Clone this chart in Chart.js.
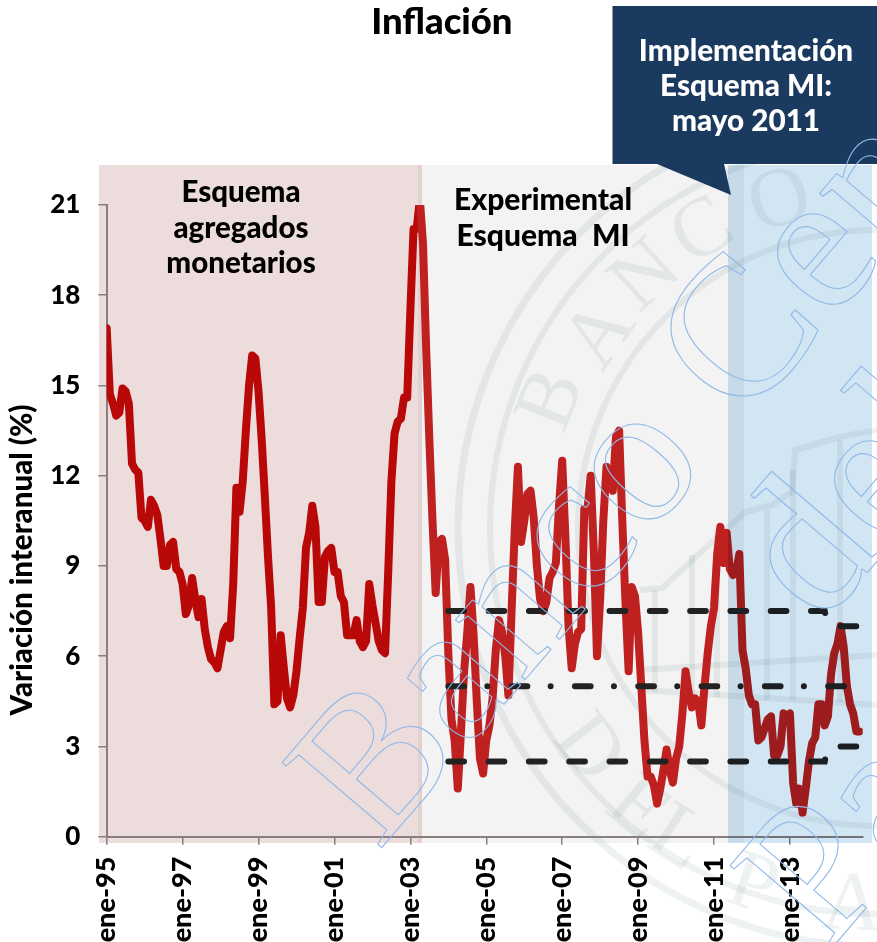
<!DOCTYPE html>
<html>
<head>
<meta charset="utf-8">
<style>html,body{margin:0;padding:0;background:#fff}canvas{display:block}</style>
<script src="https://cdn.jsdelivr.net/npm/chart.js@4"></script>
</head>
<body>
<canvas id="c" width="877" height="942"></canvas>
<script>
const monthNames = ['ene','feb','mar','abr','may','jun','jul','ago','sep','oct','nov','dic'];
const yearNames = ['95','96','97','98','99','00','01','02','03','04','05','06','07','08','09','10','11','12','13','14'];
const categories = yearNames.flatMap(y => monthNames.map(m => m + '-' + y));

const inflation = [
  16.9,14.7,14.4,14.0,14.1,14.9,14.8,14.4,12.4,12.2,12.1,10.6,
  10.5,10.3,11.2,11.0,10.7,9.9,9.0,9.0,9.7,9.8,8.9,8.8,
  8.4,7.4,7.7,8.6,7.9,7.3,7.9,6.9,6.3,5.9,5.8,5.6,
  6.2,6.8,7.0,6.6,8.4,11.6,10.8,11.8,13.5,15.0,16.0,15.9,
  14.8,13.2,11.3,9.3,7.6,4.4,4.5,6.7,5.6,4.6,4.3,4.7,
  5.5,6.6,7.6,9.6,10.1,11.0,10.3,7.8,7.8,9.3,9.5,9.6,
  8.8,8.8,8.0,7.8,6.7,6.7,6.7,7.2,6.5,6.3,6.5,8.4,
  7.7,7.1,6.5,6.2,6.1,8.8,11.8,13.4,13.8,13.9,14.6,14.6,
  17.5,20.2,20.2,21.2,19.7,16.2,13.2,10.5,8.1,9.8,9.9,9.2,
  6.1,3.9,3.2,1.6,3.5,5.5,6.8,8.3,6.7,4.5,2.6,2.1,
  3.2,3.7,4.6,6.2,7.2,6.8,6.0,4.7,7.5,10.2,12.3,9.8,
  10.5,11.4,11.5,10.6,9.0,7.9,7.5,7.8,8.6,8.8,9.1,11.0,
  12.5,10.0,7.0,5.6,6.4,6.8,6.9,10.9,10.9,12.0,9.5,6.0,
  7.9,10.5,12.3,12.1,11.5,13.3,13.5,10.5,7.8,5.5,8.3,8.0,
  6.8,5.0,3.2,2.0,2.0,1.7,1.1,1.6,2.2,2.9,2.2,1.8,
  2.6,3.0,4.1,5.5,4.8,4.3,4.6,4.5,3.7,5.0,6.1,7.0,
  7.6,9.4,10.3,9.1,10.1,8.9,8.7,8.8,9.4,6.2,5.6,4.7,
  4.4,4.4,3.2,3.3,3.6,3.9,4.0,2.7,2.7,3.0,4.1,4.0,
  4.1,1.8,1.1,1.6,0.8,1.6,2.5,3.1,3.3,4.4,4.4,3.7,
  4.0,5.4,6.1,6.4,7.0,6.3,5.0,4.4,4.1,3.5,3.5
];

const beforeTargets = new Array(108).fill(null);
const upperBand = beforeTargets.concat([
  7.5,7.5,7.5,7.5,7.5,7.5,7.5,7.5,7.5,7.5,7.5,7.5,
  7.5,7.5,7.5,7.5,7.5,7.5,7.5,7.5,7.5,7.5,7.5,7.5,
  7.5,7.5,7.5,7.5,7.5,7.5,7.5,7.5,7.5,7.5,7.5,7.5,
  7.5,7.5,7.5,7.5,7.5,7.5,7.5,7.5,7.5,7.5,7.5,7.5,
  7.5,7.5,7.5,7.5,7.5,7.5,7.5,7.5,7.5,7.5,7.5,7.5,
  7.5,7.5,7.5,7.5,7.5,7.5,7.5,7.5,7.5,7.5,7.5,7.5,
  7.5,7.5,7.5,7.5,7.5,7.5,7.5,7.5,7.5,7.5,7.5,7.5,
  7.5,7.5,7.5,7.5,7.5,7.5,7.5,7.5,7.5,7.5,7.5,7.5,
  7.5,7.5,7.5,7.5,7.5,7.5,7.5,7.5,7.5,7.5,7.5,7.5,
  7.5,7.5,7.5,7.5,7.5,7.5,7.5,7.5,7.5,7.5,7.5,7.5,
  7.0,null,null,null,7.0,7.0,7.0,7.0,7.0,7.0,7.0
]);
const centerTarget = beforeTargets.concat([
  5,5,5,5,5,5,5,5,5,5,5,5,
  5,5,5,5,5,5,5,5,5,5,5,5,
  5,5,5,5,5,5,5,5,5,5,5,5,
  5,5,5,5,5,5,5,5,5,5,5,5,
  5,5,5,5,5,5,5,5,5,5,5,5,
  5,5,5,5,5,5,5,5,5,5,5,5,
  5,5,5,5,5,5,5,5,5,5,5,5,
  5,5,5,5,5,5,5,5,5,5,5,5,
  5,5,5,5,5,5,5,5,5,5,5,5,
  5,5,5,5,5,5,5,5,5,5,5,5,
  5,5,5,5,5,5,5,5,5,5,5
]);
const lowerBand = beforeTargets.concat([
  2.5,2.5,2.5,2.5,2.5,2.5,2.5,2.5,2.5,2.5,2.5,2.5,
  2.5,2.5,2.5,2.5,2.5,2.5,2.5,2.5,2.5,2.5,2.5,2.5,
  2.5,2.5,2.5,2.5,2.5,2.5,2.5,2.5,2.5,2.5,2.5,2.5,
  2.5,2.5,2.5,2.5,2.5,2.5,2.5,2.5,2.5,2.5,2.5,2.5,
  2.5,2.5,2.5,2.5,2.5,2.5,2.5,2.5,2.5,2.5,2.5,2.5,
  2.5,2.5,2.5,2.5,2.5,2.5,2.5,2.5,2.5,2.5,2.5,2.5,
  2.5,2.5,2.5,2.5,2.5,2.5,2.5,2.5,2.5,2.5,2.5,2.5,
  2.5,2.5,2.5,2.5,2.5,2.5,2.5,2.5,2.5,2.5,2.5,2.5,
  2.5,2.5,2.5,2.5,2.5,2.5,2.5,2.5,2.5,2.5,2.5,2.5,
  2.5,2.5,2.5,2.5,2.5,2.5,2.5,2.5,2.5,2.5,2.5,2.5,
  3.0,null,null,null,3.0,3.0,3.0,3.0,3.0,3.0,3.0
]);

const yTicks = [0,3,6,9,12,15,18,21];
const FONT = 'Lato, "Open Sans", sans-serif';
const AXIS = '#8a7f7f';
const RED_EARLY = '#B80808';
const RED_LATE = '#BF2020';

function rect(ctx, color, x0, x1, y0, y1, mode) {
  ctx.save();
  if (mode) ctx.globalCompositeOperation = mode;
  ctx.fillStyle = color;
  ctx.fillRect(x0, y0, x1 - x0, y1 - y0);
  ctx.restore();
}

const sealCenter = [876, 528];
const sealRings = [[418, 7], [386, 6], [298, 6]];
const sealTop = [['B',201.6,347],['A',215,335],['N',227.6,340],['C',239.6,342],['O',253.6,339]];
const sealBottom = [['D',142.5,364],['E',130.3,370],['L',122.5,370],['P',109,380],['A',93.6,380]];

function drawSeal(ctx) {
  const [cx, cy] = sealCenter;
  ctx.save();
  ctx.globalCompositeOperation = 'multiply';
  ctx.strokeStyle = '#eff2f2';
  ctx.fillStyle = '#eff2f2';
  sealRings.forEach(([r, w]) => {
    ctx.lineWidth = w;
    ctx.beginPath();
    ctx.arc(cx, cy, r, 0, Math.PI * 2);
    ctx.stroke();
  });
  ctx.font = '84px "Liberation Serif", serif';
  ctx.textAlign = 'center';
  ctx.textBaseline = 'middle';
  sealTop.forEach(([t, a, r]) => {
    const rad = a * Math.PI / 180;
    ctx.save();
    ctx.translate(cx + r * Math.cos(rad), cy + r * Math.sin(rad));
    ctx.rotate(rad + Math.PI / 2);
    ctx.fillText(t, 0, 0);
    ctx.restore();
  });
  sealBottom.forEach(([t, a, r]) => {
    const rad = a * Math.PI / 180;
    ctx.save();
    ctx.translate(cx + r * Math.cos(rad), cy + r * Math.sin(rad));
    ctx.rotate(rad - Math.PI / 2);
    ctx.fillText(t, 0, 0);
    ctx.restore();
  });
  // building inside the seal
  ctx.lineWidth = 6;
  ctx.lineJoin = 'round';
  [
    [[640,690],[877,705]],
    [[640,590],[662,588],[745,512],[772,505],[792,492],[795,450],[840,437],[877,430]],
    [[655,590],[655,692]],
    [[692,555],[692,696]],
    [[717,530],[717,697]],
    [[767,510],[767,700]],
    [[793,470],[793,700]],
    [[840,440],[840,702]],
    [[640,670],[877,655]]
  ].forEach(poly => {
    ctx.beginPath();
    poly.forEach(([x, y], i) => i ? ctx.lineTo(x, y) : ctx.moveTo(x, y));
    ctx.stroke();
  });
  ctx.restore();
}

function drawCallout(ctx) {
  ctx.save();
  ctx.fillStyle = '#1A3A60';
  ctx.beginPath();
  ctx.moveTo(612.5, 6);
  ctx.lineTo(877, 6);
  ctx.lineTo(877, 164);
  ctx.lineTo(724, 164);
  ctx.lineTo(731, 195);
  ctx.lineTo(657, 164);
  ctx.lineTo(612.5, 164);
  ctx.closePath();
  ctx.fill();
  ctx.fillStyle = '#fff';
  ctx.font = '900 29.7px ' + FONT;
  ctx.textAlign = 'center';
  ctx.textBaseline = 'alphabetic';
  ctx.fillText('Implementación', 746, 61);
  ctx.fillText('Esquema MI:', 746, 96);
  ctx.fillText('mayo 2011', 746, 131);
  ctx.restore();
}

function drawWatermark(ctx) {
  ctx.save();
  ctx.strokeStyle = '#8FB9E8';
  ctx.lineWidth = 1.1;
  ctx.lineJoin = 'round';
  ctx.font = '200px "Liberation Serif", serif';
  ctx.textAlign = 'left';
  ctx.textBaseline = 'alphabetic';
  [['Banco Central', 378, 852], ['del', 821, 627], ['Paraguay', 826, 955]].forEach(([t, x, y]) => {
    ctx.save();
    ctx.translate(x, y);
    ctx.rotate(-49.5 * Math.PI / 180);
    ctx.strokeText(t, 0, 0);
    ctx.restore();
  });
  ctx.restore();
}

const decorations = {
  id: 'decorations',
  beforeDraw(chart) {
    const ctx = chart.ctx;
    rect(ctx, '#ffffff', 0, 877, 0, 942);
    rect(ctx, '#EDDCDC', 99, 422, 165, 843);
    rect(ctx, '#F3F3F3', 418, 744, 165, 843, 'multiply');
    drawSeal(ctx);
  },
  beforeDatasetsDraw(chart) {
    const ctx = chart.ctx;
    ctx.save();
    ctx.fillStyle = '#000';
    ctx.font = '900 29.5px ' + FONT;
    ctx.textAlign = 'center';
    ctx.fillText('Esquema', 241, 202);
    ctx.fillText('agregados', 241, 238);
    ctx.fillText('monetarios', 241, 273);
    ctx.font = '900 30px ' + FONT;
    ctx.fillText('Experimental', 543, 210);
    ctx.fillText('Esquema  MI', 543, 246);
    ctx.save();
    ctx.translate(32, 560);
    ctx.rotate(-Math.PI / 2);
    ctx.font = '900 29.5px ' + FONT;
    ctx.fillText('Variación interanual (%)', 0, 0);
    ctx.restore();
    ctx.restore();
  },
  afterDatasetsDraw(chart) {
    rect(chart.ctx, '#D2E5F3', 728, 872, 165, 843, 'multiply');
  },
  afterDraw(chart) {
    drawCallout(chart.ctx);
    drawWatermark(chart.ctx);
  }
};

new Chart(document.getElementById('c'), {
  type: 'line',
  plugins: [decorations],
  data: {
    labels: categories.slice(0, 240),
    datasets: [
      {
        label: 'Inflación',
        data: inflation,
        order: 2,
        clip: 0,
        borderColor: RED_LATE,
        borderWidth: 8,
        borderCapStyle: 'round',
        borderJoinStyle: 'round',
        pointRadius: 0,
        tension: 0,
        segment: { borderColor: c => c.p0DataIndex < 99 ? RED_EARLY : RED_LATE }
      },
      {
        label: 'Meta superior',
        data: upperBand,
        order: 1,
        clip: false,
        borderColor: '#222222',
        borderWidth: 6,
        borderCapStyle: 'round',
        borderDash: [15.7, 24.6],
        pointRadius: 0,
        spanGaps: false
      },
      {
        label: 'Meta',
        data: centerTarget,
        order: 1,
        clip: false,
        borderColor: '#222222',
        borderWidth: 6,
        borderCapStyle: 'round',
        borderDash: [15.7, 23.3, 0.01, 24.3],
        pointRadius: 0,
        spanGaps: false
      },
      {
        label: 'Meta inferior',
        data: lowerBand,
        order: 1,
        clip: false,
        borderColor: '#222222',
        borderWidth: 6,
        borderCapStyle: 'round',
        borderDash: [15.7, 24.6],
        pointRadius: 0,
        spanGaps: false
      }
    ]
  },
  options: {
    responsive: false,
    animation: false,
    events: [],
    layout: { padding: { left: 21, right: 14.3, top: 0, bottom: 0 } },
    plugins: {
      legend: { display: false },
      tooltip: { enabled: false },
      title: {
        display: true,
        text: 'Inflación',
        color: '#000',
        font: { family: FONT, size: 36.5, weight: '900', lineHeight: 1.2 },
        padding: { top: 0, bottom: 161.2 }
      }
    },
    scales: {
      x: {
        type: 'category',
        offset: false,
        afterFit(s) { s.height = 105.3; },
        afterBuildTicks(s) { s.ticks = s.ticks.filter(t => t.value % 24 === 0); },
        grid: { drawOnChartArea: false, drawTicks: true, tickLength: 8, color: AXIS, lineWidth: 1.5 },
        border: { color: AXIS, width: 2 },
        ticks: {
          autoSkip: false, maxRotation: 90, minRotation: 90, padding: 12,
          color: '#000', font: { family: FONT, size: 27, weight: '900' }
        }
      },
      y: {
        min: 0, max: 21,
        afterFit(s) { s.width = 85.7; },
        afterBuildTicks(s) { s.ticks = yTicks.map(v => ({ value: v })); },
        grid: { drawOnChartArea: false, drawTicks: true, tickLength: 8.4, color: AXIS, lineWidth: 1.5 },
        border: { color: AXIS, width: 2 },
        ticks: {
          padding: 18, color: '#000', font: { family: FONT, size: 26, weight: '900' }
        }
      }
    }
  }
});
</script>
</body>
</html>
